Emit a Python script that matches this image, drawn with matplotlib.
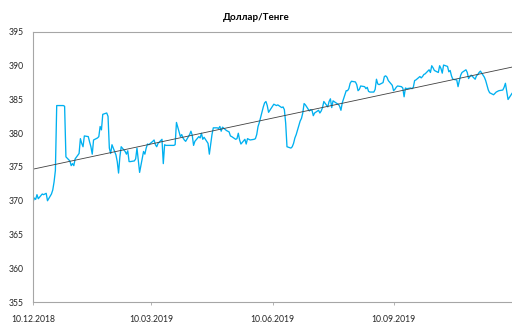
import numpy as np
import pandas as pd
import matplotlib
matplotlib.use("Agg")
import matplotlib.pyplot as plt
import matplotlib.dates as mdates

# курс USD/KZT по рабочим дням, одна строка = одна неделя (пн..пт)
rates = [
    369.8, 370.4, 370.2, 370.9, 370.3,
    371.0, 370.9, 371.0, 371.1, 370.0,
    371.0, 371.6, 372.8, 374.5, 384.1,
    384.1, 384.1, 384.1, 384.0, 376.5,
    375.9, 375.2, 375.5, 375.2, 376.2,
    377.0, 379.2, 378.5, 378.0, 379.6,
    379.5, 378.7, 378.0, 376.9, 379.0,
    379.3, 379.5, 381.0, 380.5, 382.8,
    383.0, 382.5, 377.8, 377.0, 378.3,
    376.8, 375.8, 374.1, 376.5, 378.0,
    377.3, 376.9, 377.4, 375.8, 375.8,
    375.9, 376.2, 377.8, 376.0, 374.2,
    377.3, 376.9, 377.8, 378.4, 378.3,
    378.8, 379.0, 378.3, 378.0, 378.5,
    379.1, 375.5, 378.3, 378.2, 378.2,
    378.2, 378.2, 378.2, 378.3, 381.6,
    379.5, 379.8, 379.3, 379.0, 378.8,
    379.8, 380.3, 379.7, 378.2, 378.8,
    379.5, 379.3, 380.0, 379.1, 379.4,
    378.5, 376.9, 378.3, 379.8, 380.8,
    380.8, 380.7, 381.0, 380.3, 380.9,
    380.4, 380.3, 380.2, 379.6, 379.5,
    379.1, 379.2, 380.0, 379.0, 378.4,
    379.1, 378.4, 379.2, 379.1, 379.0,
    379.1, 379.2, 379.8, 381.0, 381.6,
    383.9, 384.5, 384.7, 384.1, 383.1,
    384.0, 384.3, 384.2, 384.1, 384.2,
    383.8, 383.9, 383.5, 381.5, 378.0,
    377.8, 378.0, 378.5, 379.3, 379.8,
    381.8, 382.2, 383.0, 384.4, 384.2,
    383.3, 383.5, 383.4, 382.6, 383.0,
    383.4, 383.0, 383.3, 383.8, 384.7,
    383.9, 384.7, 385.1, 383.8, 384.8,
    384.4, 384.3, 384.0, 383.4, 384.5,
    386.3, 386.3, 386.6, 387.4, 387.7,
    387.6, 387.2, 386.3, 386.5, 387.0,
    386.9, 386.6, 386.8, 386.2, 386.1,
    386.1, 386.5, 388.0, 387.3, 387.2,
    387.5, 388.4, 388.5, 388.3, 387.8,
    387.1, 386.3, 386.5, 386.8, 387.0,
    386.9, 386.7, 385.4, 386.7, 386.6,
    386.7, 386.6, 386.8, 387.8, 387.9,
    388.4, 388.2, 388.4, 388.7, 388.8,
    389.4, 389.0, 390.0, 389.7, 389.3,
    389.0, 390.0, 389.6, 388.9, 390.1,
    389.9, 389.1, 389.3, 388.5, 388.0,
    387.9, 386.9, 387.8, 388.6, 389.0,
    389.4, 389.0, 388.1, 388.4, 388.6,
    388.0, 388.5, 388.7, 389.0, 389.2,
    388.3, 387.8, 387.1, 386.4, 386.0,
    385.7, 385.9, 386.1, 386.2, 386.3,
    386.4, 386.8, 387.4, 386.2, 385.0,
    385.9,
]
dates = pd.bdate_range("2018-12-10", periods=len(rates))

tick_dates = pd.to_datetime(["2018-12-10", "2019-03-10", "2019-06-10", "2019-09-10"])
y_ticks = [355, 360, 365, 370, 375, 380, 385, 390, 395]

# линейный тренд по всем точкам
x = mdates.date2num(dates)
k, b = np.polyfit(x, rates, 1)

fig = plt.figure(figsize=(5.12, 3.23), dpi=100)
ax = fig.add_axes([0.0645, 0.065, 0.9355, 0.836])

ax.plot(dates, rates, color="#00B0F0", lw=0.95)
ax.plot([dates[0], dates[-1]], [k * x[0] + b, k * x[-1] + b], color="#404040", lw=0.6)

ax.set_xlim(dates[0], dates[-1])
ax.set_ylim(355, 395)
ax.set_yticks(y_ticks)
ax.set_xticks(tick_dates)
ax.xaxis.set_major_formatter(mdates.DateFormatter("%d.%m.%Y"))

for s in ["left", "bottom", "top"]:
    ax.spines[s].set_color("#A6A6A6")
    ax.spines[s].set_linewidth(0.8)
ax.spines["right"].set_visible(False)

ax.tick_params(axis="y", length=0, pad=6.5, labelsize=6.2, labelcolor="#262626")
ax.tick_params(axis="x", length=2, width=0.6, color="#A6A6A6", pad=7,
               labelsize=6.2, labelcolor="#262626")
for lab in ax.get_xticklabels() + ax.get_yticklabels():
    lab.set_family("Lato")

fig.text(0.5, 0.945, "Доллар/Тенге", ha="center", va="center",
         fontsize=7, fontweight="bold", family="Lato", color="#000000")

fig.savefig("out.png", dpi=100)
